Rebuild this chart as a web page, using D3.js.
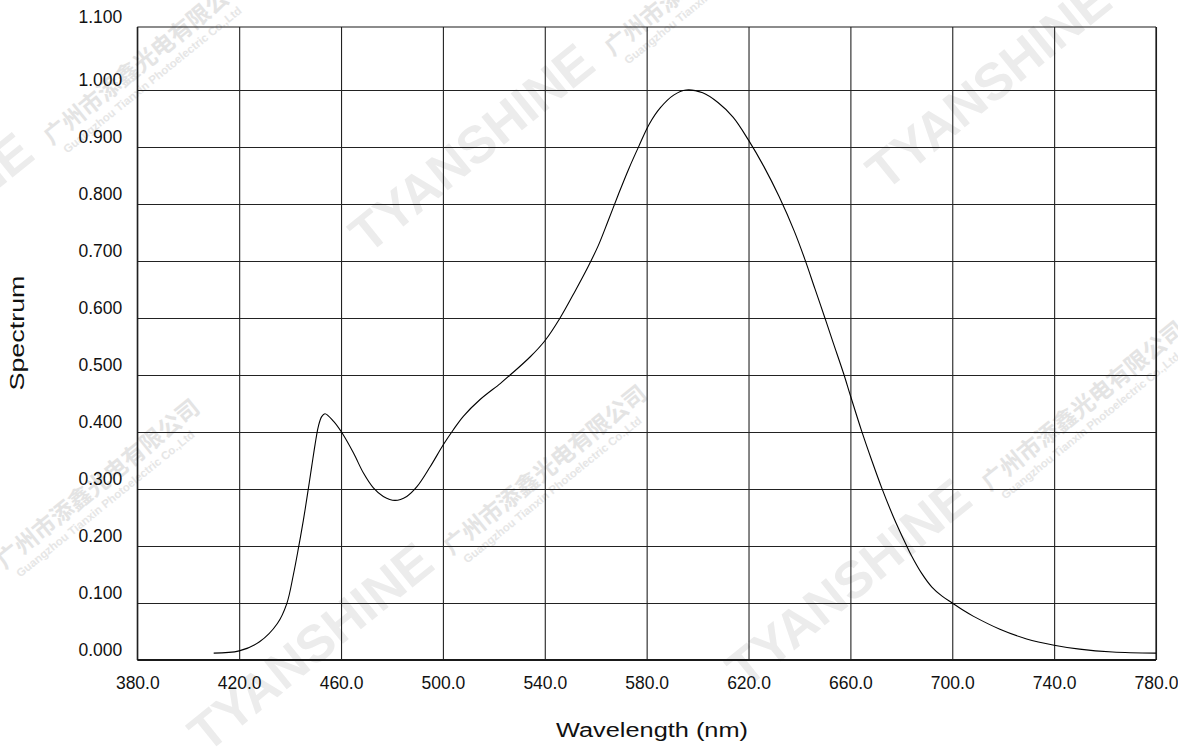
<!DOCTYPE html>
<html>
<head>
<meta charset="utf-8">
<script src="https://cdn.jsdelivr.net/npm/d3@7"></script>
<style>
  html, body { margin: 0; padding: 0; background: #fff; }
  svg { display: block; font-family: "Liberation Sans", Arial, sans-serif; }
</style>
</head>
<body>
<svg id="chart" width="1178" height="747"></svg>
<script>
// DATA
var wavelengths = [410, 420, 428, 435, 438.7, 441.3, 443.3, 445.2, 446.8, 448.5, 449.8, 451.1, 452.4,
  453.7, 457, 460.3, 464.9, 468.8, 472.7, 476.6, 481.2, 485.8, 489.8, 495, 500.2, 504.1,
  508.1, 514.6, 522.5, 526.4, 534.3, 540.2, 546, 552, 557, 561, 565, 569, 573,
  577, 581, 585.4, 590.6, 595.5, 602, 608, 614, 620, 626, 632, 638, 642.2,
  646.1, 649.7, 653.3, 657.3, 660, 664.4, 668.4, 672.3, 676.9, 681.8, 684, 688, 692, 696, 700,
  704, 708.2, 718.7, 729.2, 740, 750, 763, 780];
var spectrum = [0.012, 0.016, 0.032, 0.064, 0.099, 0.150, 0.197, 0.245, 0.290, 0.340, 0.378, 0.410, 0.427,
  0.432, 0.419, 0.399, 0.363, 0.328, 0.302, 0.287, 0.280, 0.287, 0.304, 0.339, 0.378, 0.404,
  0.428, 0.457, 0.485, 0.500, 0.532, 0.561, 0.600, 0.648, 0.690, 0.727, 0.772, 0.818, 0.862,
  0.902, 0.940, 0.969, 0.991, 1.000, 0.995, 0.978, 0.952, 0.912, 0.866, 0.813, 0.752, 0.702,
  0.651, 0.604, 0.556, 0.503, 0.464, 0.402, 0.350, 0.302, 0.251, 0.203, 0.183, 0.152, 0.128, 0.112, 0.100,
  0.088, 0.077, 0.054, 0.037, 0.026, 0.019, 0.014, 0.012];

var xTicks = [380, 420, 460, 500, 540, 580, 620, 660, 700, 740, 780];
var yTicks = [0, 0.1, 0.2, 0.3, 0.4, 0.5, 0.6, 0.7, 0.8, 0.9, 1.0, 1.1];

var xTitle = "Wavelength (nm)";
var yTitle = "Spectrum";

// watermark text, repeated across the picture
var markBrand = "TYANSHINE";
var markChinese = "广州市添鑫光电有限公司";
var markEnglish = "Guangzhou Tianxin Photoelectric Co.,Ltd";
var markStarts = [[-193, 344], [368, 255], [885, 192], [-240, 768], [207, 754], [745, 690]];

// LAYOUT
var svg = d3.select("#chart");
var plotLeft = 137.3, plotRight = 1156, plotTop = 27, plotBottom = 660;

var x = d3.scaleLinear().domain([380, 780]).range([plotLeft, plotRight]);
var y = d3.scaleLinear().domain([0, 1.1]).range([plotBottom, 33]);

// WATERMARKS (under everything)
var marks = svg.append("g").attr("class", "watermarks");
markStarts.forEach(function(p) {
  var g = marks.append("g").attr("transform", "translate(" + p[0] + "," + p[1] + ") rotate(-39)");
  g.append("text")
    .attr("x", 0).attr("y", 0)
    .style("font-size", "52px").style("font-weight", "bold")
    .style("fill", "#ececec")
    .text(markBrand);
  g.append("text")
    .attr("x", 315).attr("y", 0)
    .style("font-family", "'Noto Sans CJK SC', sans-serif")
    .style("font-size", "23px").style("font-weight", "bold")
    .style("fill", "#e4e4e4")
    .text(markChinese);
  g.append("text")
    .attr("x", 322).attr("y", 16)
    .style("font-size", "11.5px").style("font-weight", "bold")
    .style("fill", "#e6e6e6")
    .text(markEnglish);
});

// GRID + AXES
var xAxis = d3.axisBottom(x)
  .tickValues(xTicks)
  .tickSize(-(plotBottom - plotTop))
  .tickPadding(17)
  .tickFormat(d3.format(".1f"));

var xg = svg.append("g")
  .attr("transform", "translate(0," + plotBottom + ")")
  .call(xAxis);
xg.select(".domain").remove();
xg.selectAll(".tick line").attr("stroke", "#222").attr("stroke-width", 1.1);
xg.selectAll(".tick text")
  .attr("fill", "#111")
  .style("font-size", "17.5px")
  .style("font-family", "'Liberation Sans', Arial, sans-serif");

var yAxis = d3.axisLeft(y)
  .tickValues(yTicks)
  .tickSize(-(plotRight - plotLeft))
  .tickPadding(15)
  .tickFormat(d3.format(".3f"));

var yg = svg.append("g")
  .attr("transform", "translate(" + plotLeft + ",0)")
  .call(yAxis);
yg.select(".domain").remove();
yg.selectAll(".tick line")
  .attr("stroke", "#222").attr("stroke-width", 1.1)
  .filter(function(d) { return d >= 1.1 || d === 0; }).remove();
yg.selectAll(".tick text")
  .attr("fill", "#111")
  .attr("dy", function(d) { return d >= 1.1 ? "-0.62em" : "-0.27em"; })
  .style("font-size", "17.5px")
  .style("font-family", "'Liberation Sans', Arial, sans-serif");

// frame: top, left, right thin, bottom thick
var frame = svg.append("g").attr("stroke", "#1a1a1a").attr("fill", "none");
frame.append("line").attr("x1", plotLeft).attr("x2", plotRight).attr("y1", plotTop).attr("y2", plotTop).attr("stroke-width", 1.2);
frame.append("line").attr("x1", plotLeft).attr("x2", plotLeft).attr("y1", plotTop).attr("y2", plotBottom).attr("stroke-width", 1.2);
frame.append("line").attr("x1", plotRight).attr("x2", plotRight).attr("y1", plotTop).attr("y2", plotBottom).attr("stroke-width", 1.2);
frame.append("line").attr("x1", plotLeft).attr("x2", plotRight).attr("y1", y(0)).attr("y2", y(0)).attr("stroke-width", 2.2);

// CURVE
var line = d3.line()
  .x(function(d, i) { return x(wavelengths[i]); })
  .y(function(d) { return y(d); })
  .curve(d3.curveCatmullRom.alpha(0.5));

svg.append("path")
  .datum(spectrum)
  .attr("d", line)
  .attr("fill", "none")
  .attr("stroke", "#000")
  .attr("stroke-width", 1.1);

// TITLES
svg.append("text")
  .attr("x", 652).attr("y", 737)
  .attr("text-anchor", "middle")
  .attr("textLength", 192).attr("lengthAdjust", "spacingAndGlyphs")
  .style("font-size", "20px").attr("fill", "#111")
  .text(xTitle);

svg.append("text")
  .attr("transform", "translate(24,333) rotate(-90)")
  .attr("text-anchor", "middle")
  .attr("textLength", 115).attr("lengthAdjust", "spacingAndGlyphs")
  .style("font-size", "20px").attr("fill", "#111")
  .text(yTitle);
</script>
</body>
</html>
